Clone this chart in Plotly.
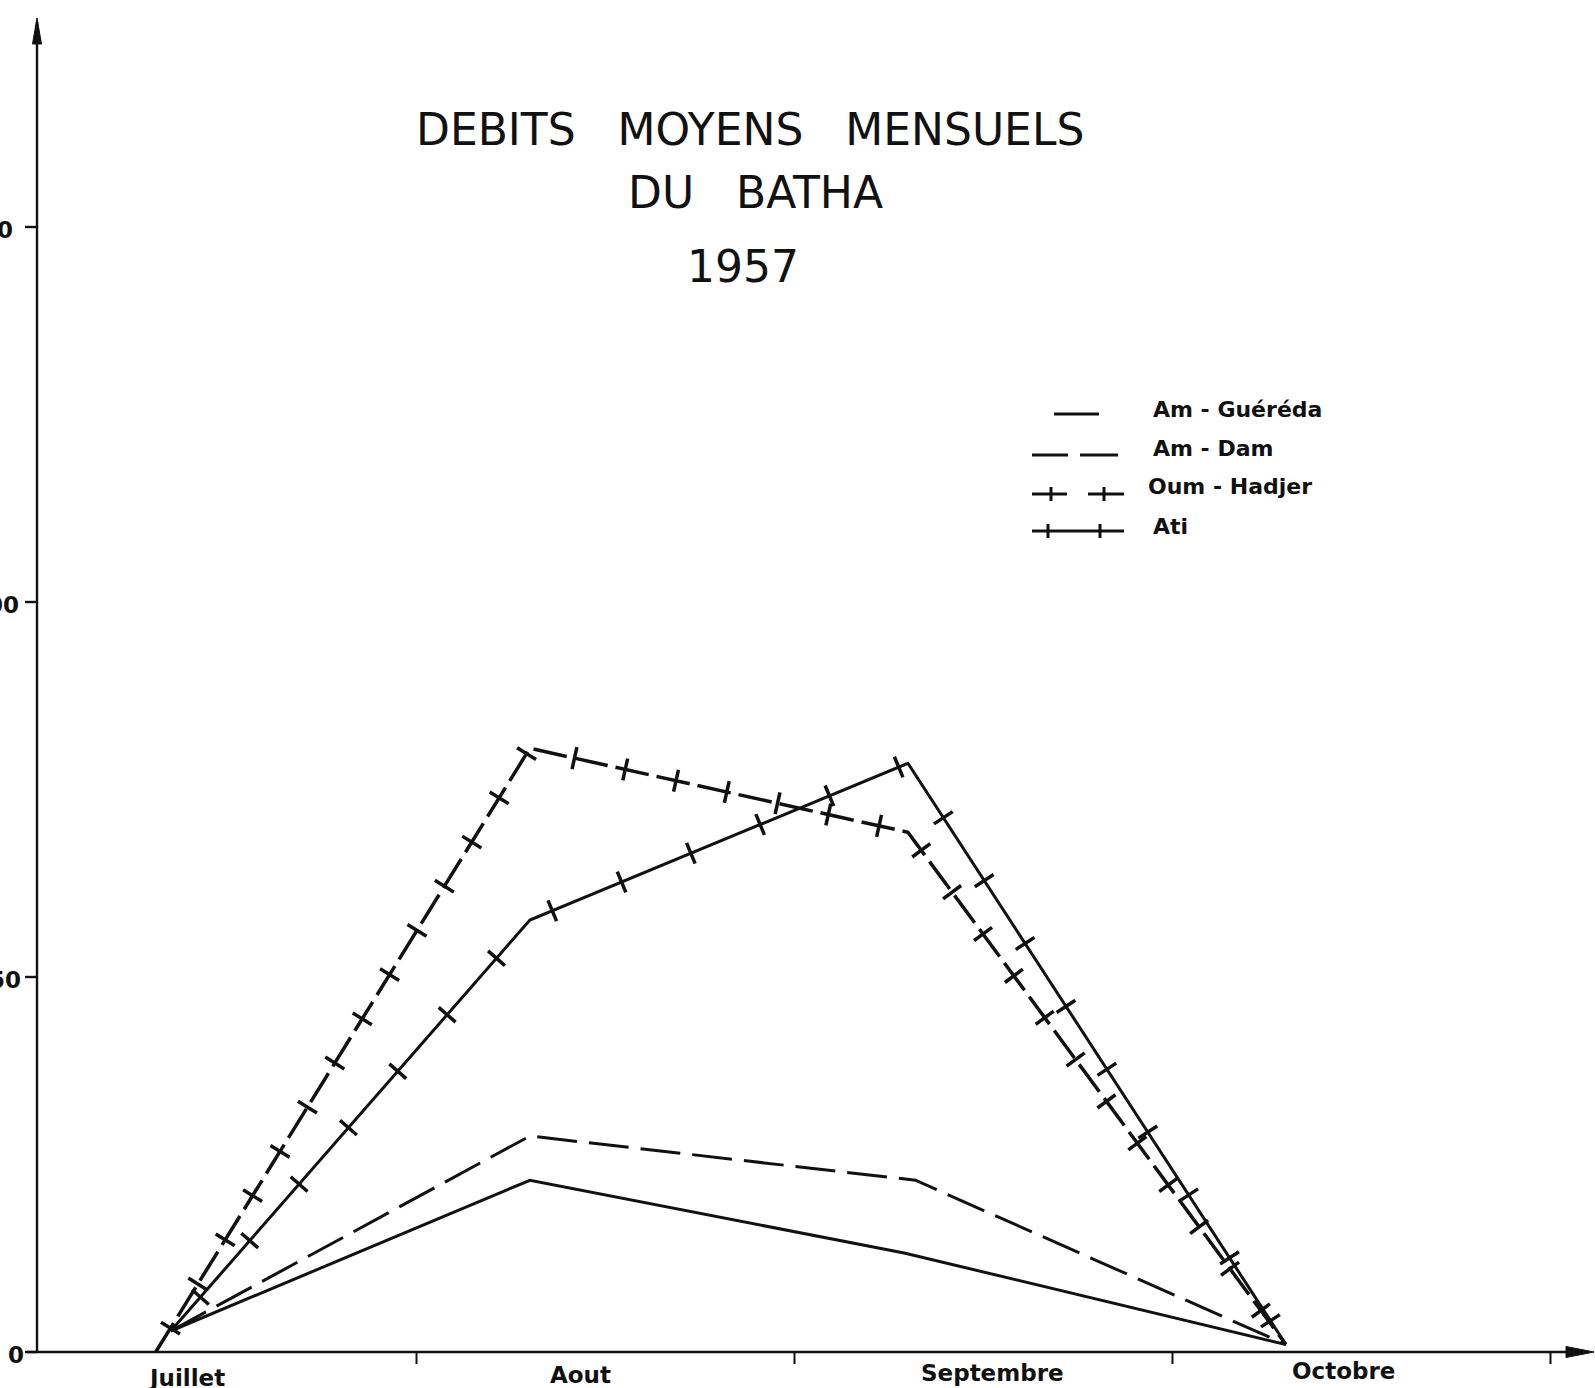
import math
import plotly.graph_objects as go

# ---- data -------------------------------------------------------------
months = ["Juillet", "Aout", "Septembre", "Octobre"]
month_ticks = [0, 1, 2, 3, 4]                 # month boundaries on the time axis
y_ticks = [0, 50, 100, 150]
y_tick_labels = ["0", "50", "100", "150"]

x_gue = [0.35, 1.30, 2.29, 3.30]
q_gue = [2.8, 22.9, 13.2, 1.0]          # Am-Guéréda

x_dam = [0.35, 1.30, 2.32, 3.30]
q_dam = [2.8, 28.8, 22.9, 1.0]          # Am-Dam

x_oum = [0.31, 1.30, 2.30, 3.30]
q_oum = [0.0, 80.5, 69.3, 1.0]          # Oum-Hadjer

x_ati = [0.35, 1.30, 2.30, 3.30]
q_ati = [2.8, 57.6, 78.5, 1.0]          # Ati

# ---- page geometry ----------------------------------------------------
W, H = 1595, 1388
X0_PX, X_SCALE = 38.5, 378.0          # px of x=0, px per month
Y0_PX, Y_SCALE = 1352.0, 7.5          # px of q=0, px per unit
x_range = [(0 - X0_PX) / X_SCALE, (W - X0_PX) / X_SCALE]
y_range = [(Y0_PX - H) / Y_SCALE, (Y0_PX - 0) / Y_SCALE]

INK = "#111111"
FONT_LBL = dict(family="DejaVu Sans", size=22, color=INK, weight="bold")
FONT_TTL = dict(family="DejaVu Sans", size=44, color=INK)


def to_px(x, y):
    return X0_PX + x * X_SCALE, Y0_PX - y * Y_SCALE


def px_paper(px, py):
    return px / W, 1 - py / H


def tick_marks(xs, ys, spacing, offset):
    """Positions and angles of the small cross-bars drawn along a line."""
    mx, my, ang = [], [], []
    carry = offset
    for i in range(len(xs) - 1):
        ax, ay = to_px(xs[i], ys[i])
        bx, by = to_px(xs[i + 1], ys[i + 1])
        seg = math.hypot(bx - ax, by - ay)
        theta = math.degrees(math.atan2(by - ay, bx - ax))
        d = carry
        while d < seg:
            t = d / seg
            px, py = ax + t * (bx - ax), ay + t * (by - ay)
            mx.append((px - X0_PX) / X_SCALE)
            my.append((Y0_PX - py) / Y_SCALE)
            ang.append(theta)
            d += spacing
        carry = d - seg
    return mx, my, ang


fig = go.Figure()

line_w = 3
fig.add_trace(go.Scatter(x=x_gue, y=q_gue, mode="lines", name="Am-Guéréda",
                         line=dict(color=INK, width=line_w)))
fig.add_trace(go.Scatter(x=x_dam, y=q_dam, mode="lines", name="Am-Dam",
                         line=dict(color=INK, width=line_w, dash="40px,12px")))
fig.add_trace(go.Scatter(x=x_oum, y=q_oum, mode="lines", name="Oum-Hadjer",
                         line=dict(color=INK, width=line_w + 0.5, dash="34px,8px")))
fig.add_trace(go.Scatter(x=x_ati, y=q_ati, mode="lines", name="Ati",
                         line=dict(color=INK, width=line_w)))

# cross-bars along Oum-Hadjer and Ati
for xs, ys, sp, off in [(x_oum, q_oum, 52, 28), (x_ati, q_ati, 75, 45)]:
    mx, my, ang = tick_marks(xs, ys, sp, off)
    fig.add_trace(go.Scatter(
        x=mx, y=my, mode="markers", showlegend=False, hoverinfo="skip",
        marker=dict(symbol="line-ns", size=16, angle=ang,
                    line=dict(color=INK, width=3.5))))

shapes = []
ann = []

# axes
ax_w = 2.4
x_a, y_a = px_paper(X0_PX - 1.5, Y0_PX)
x_b, y_b = px_paper(X0_PX - 1.5, 22)
shapes.append(dict(type="line", xref="paper", yref="paper", x0=x_a, y0=y_a,
                   x1=x_b, y1=y_b, line=dict(color=INK, width=ax_w)))
x_a, y_a = px_paper(27, Y0_PX)
x_b, y_b = px_paper(1586, Y0_PX)
shapes.append(dict(type="line", xref="paper", yref="paper", x0=x_a, y0=y_a,
                   x1=x_b, y1=y_b, line=dict(color=INK, width=ax_w)))


def tri(points):
    pts = [px_paper(*p) for p in points]
    return "M {} {} L {} {} L {} {} Z".format(*[v for p in pts for v in p])


shapes.append(dict(type="path", xref="paper", yref="paper",
                   path=tri([(32.5, 44), (37, 18), (41.5, 44)]),
                   fillcolor=INK, line=dict(color=INK, width=1)))
shapes.append(dict(type="path", xref="paper", yref="paper",
                   path=tri([(1566, 1346.5), (1594, 1352), (1566, 1357.5)]),
                   fillcolor=INK, line=dict(color=INK, width=1)))

# y ticks and labels (labels run off the left edge of the sheet)
label_right_px = [25, 22, 20, 14]
for v, lab, rpx in zip(y_ticks, y_tick_labels, label_right_px):
    _, py = to_px(0, v)
    a = px_paper(25, py)
    b = px_paper(X0_PX - 1.5, py)
    shapes.append(dict(type="line", xref="paper", yref="paper", x0=a[0], y0=a[1],
                       x1=b[0], y1=b[1], line=dict(color=INK, width=2.4)))
    ann.append(dict(x=(rpx - X0_PX) / X_SCALE, y=v, xref="x", yref="y", text=lab,
                    showarrow=False, xanchor="right", yanchor="middle",
                    font=dict(FONT_LBL, size=23), yshift=-3, borderpad=0))

# x ticks (month boundaries) and month names
for m in month_ticks[1:]:
    px, _ = to_px(m, 0)
    a = px_paper(px, Y0_PX)
    b = px_paper(px, Y0_PX + 12)
    shapes.append(dict(type="line", xref="paper", yref="paper", x0=a[0], y0=a[1],
                       x1=b[0], y1=b[1], line=dict(color=INK, width=2)))

label_px = [186, 580, 992, 1343]
label_py = [1378, 1375, 1373, 1371]
for name, lx, ly in zip(months, label_px, label_py):
    px_, py_ = px_paper(lx, ly)
    ann.append(dict(x=px_, y=py_, xref="paper", yref="paper", text=name,
                    showarrow=False, xanchor="center", yanchor="middle",
                    font=dict(FONT_LBL, size=23)))

# title
for txt, cx, cy in [("DEBITS   MOYENS   MENSUELS", 750, 129),
                    ("DU   BATHA", 755, 193),
                    ("1957", 743, 266)]:
    px_, py_ = px_paper(cx, cy)
    ann.append(dict(x=px_, y=py_, xref="paper", yref="paper", text=txt,
                    showarrow=False, xanchor="center", yanchor="middle",
                    font=FONT_TTL))

# legend key, hand-drawn style
legend_names = ["Am - Guéréda", "Am - Dam", "Oum - Hadjer", "Ati"]
key_y = [414, 455, 494, 531]
text_y = [410, 448, 486, 526]
text_x = [1151, 1151, 1146, 1151]


def seg(x0, x1, y, w=3):
    a = px_paper(x0, y)
    b = px_paper(x1, y)
    return dict(type="line", xref="paper", yref="paper", x0=a[0], y0=a[1],
                x1=b[0], y1=b[1], line=dict(color=INK, width=w))


def bar(x, y, h=7, w=3):
    a = px_paper(x, y - h)
    b = px_paper(x, y + h)
    return dict(type="line", xref="paper", yref="paper", x0=a[0], y0=a[1],
                x1=b[0], y1=b[1], line=dict(color=INK, width=w))


shapes.append(seg(1054, 1099, key_y[0]))
shapes.append(seg(1032, 1068, key_y[1]))
shapes.append(seg(1080, 1118, key_y[1]))
shapes.append(seg(1032, 1067, key_y[2]))
shapes.append(seg(1088, 1124, key_y[2]))
shapes.append(bar(1051, key_y[2]))
shapes.append(bar(1104, key_y[2]))
shapes.append(seg(1032, 1124, key_y[3]))
shapes.append(bar(1048, key_y[3]))
shapes.append(bar(1100, key_y[3]))

for name, tx, ty in zip(legend_names, text_x, text_y):
    px_, py_ = px_paper(tx, ty)
    ann.append(dict(x=px_, y=py_, xref="paper", yref="paper", text=name,
                    showarrow=False, xanchor="left", yanchor="middle",
                    font=FONT_LBL))

fig.update_layout(
    width=W, height=H,
    margin=dict(l=0, r=0, t=0, b=0),
    paper_bgcolor="white", plot_bgcolor="white",
    showlegend=False,
    xaxis=dict(range=x_range, visible=False, fixedrange=True),
    yaxis=dict(range=y_range, visible=False, fixedrange=True),
    shapes=shapes, annotations=ann,
)

fig.write_html("out.html")
